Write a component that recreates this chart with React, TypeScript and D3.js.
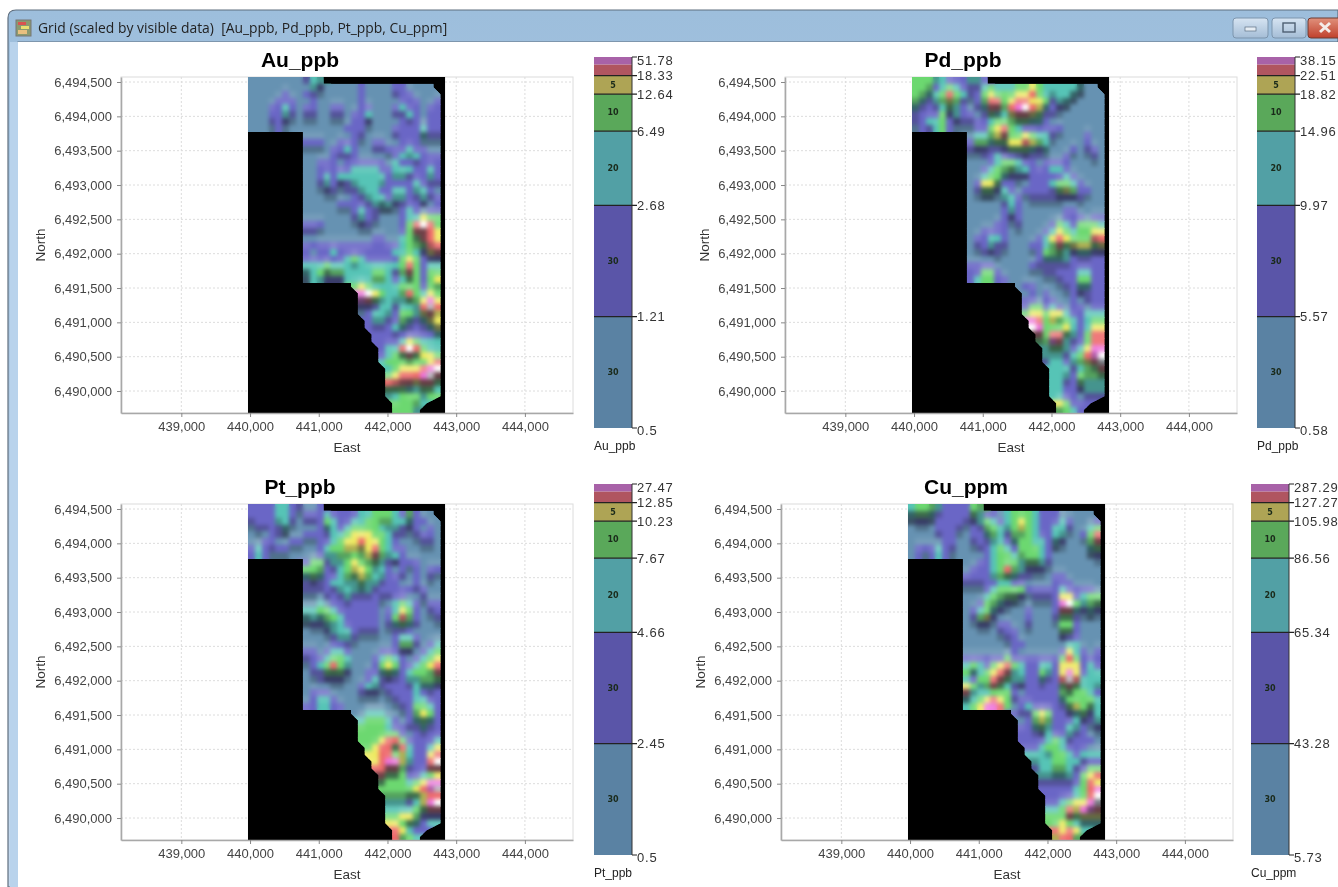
import React, { useEffect, useRef } from 'react';
import * as d3 from 'd3';

// grid classes, 100 m cells, north to south.
// 0 base, 1 purple, 2 teal, 3 green, 4 yellow, 5 red, 6 magenta, 7 white
const rowStart = [
  0, 0, 0, 0, 0, 0, 0, 0,
  8, 8, 8, 8, 8, 8, 8, 8, 8, 8, 8, 8, 8, 8,
  8, 8, 8, 8, 8, 8, 8, 8,
  15, 16, 16, 16, 16, 17, 17, 18, 18, 19, 19, 19, 20, 20, 20, 20, 20, 21, 21,
];

const auGrid = [
  '00000000122',
  '000000000210000010000110000',
  '0000010011000000100001110000',
  '0000111001000000100000111001',
  '0001121011001100110001211011',
  '0001121011001101120001121011',
  '0001110000000001110000111011',
  '0000100000000011100001111211',
  '00000001100001111211',
  '11100111001100111000',
  '00001121001111121100',
  '00001111000001222111',
  '00111011111102111111',
  '00111112222112221121',
  '00121222222212211121',
  '00121112222211112111',
  '00011011222112212210',
  '00000001122212211211',
  '00000111112221111101',
  '00000001211000121011',
  '00000001211000122433',
  '11100000110000135753',
  '11000000000000135554',
  '00000000001100233554',
  '11111111111111233355',
  '10112111111112232145',
  '11111123211111343111',
  '22232222222222353122',
  '22333322223321353133',
  '02211122223321233134',
  '3432222333133',
  '674322353243',
  '653222233464',
  '111221222575',
  '012221332454',
  '12211321244',
  '11112211124',
  '1111111112',
  '1111243222',
  '122575322',
  '123353443',
  '233333345',
  '23444567',
  '34555675',
  '55554553',
  '33322332',
  '22333233',
  '33332',
  '3332',
];

const pdGrid = [
  '33322111221',
  '333123211123222334322222200',
  '3322353211343334453222220000',
  '3212343101355345544312200000',
  '2111232101255356754211000000',
  '1111312110132245543110000000',
  '1122311111123333322100000000',
  '0112310001134532111111000000',
  '02234533432210000100',
  '13323344543200000100',
  '11111133321200010110',
  '00112111111000100010',
  '00012332110111100000',
  '00123332211122100000',
  '00233211111111210000',
  '01443110011123321000',
  '01331210111113431100',
  '00000221011111111000',
  '00000121000000000000',
  '00000121000000110000',
  '00000111000000111011',
  '00001101000013213332',
  '00111100000124323344',
  '01122100001245433355',
  '01121100011235344434',
  '00111000001333212211',
  '00000000001222211111',
  '11110000011111111111',
  '11331000000111112211',
  '12331100000001113311',
  '0110000112211',
  '010100011111',
  '110110010111',
  '133121011011',
  '344344211222',
  '65343321233',
  '76333421244',
  '5355321355',
  '3365211355',
  '233212466',
  '222123567',
  '122123457',
  '22212335',
  '22213333',
  '22113222',
  '22111222',
  '22110111',
  '43111',
  '3321',
];

const ptGrid = [
  '11112211001',
  '111122101112111122333213100',
  '1111221011132112233332221100',
  '0111120000122123333222111010',
  '0001100011112234443321101110',
  '0011001100112344544321000110',
  '1211110000123344445321100000',
  '1210000000122333345322100000',
  '13312234333211111000',
  '33311234432210101011',
  '23211233432211101010',
  '11112222322111001000',
  '11111222221111111100',
  '00011121111111100100',
  '00201111111002321011',
  '22332111111012431011',
  '22233211111013531001',
  '01122211111012321000',
  '00012221111001110000',
  '00001221000001221000',
  '00001110000001331012',
  '11012210000111110123',
  '11123320001232101234',
  '01235320001343112345',
  '01133310011232123335',
  '00111100012111122333',
  '00000000122111112221',
  '01110000111011112111',
  '01221000000001112211',
  '11221100000000113321',
  '0022200013431',
  '233321012321',
  '333321111211',
  '333333101111',
  '333455311112',
  '34553521124',
  '44553421145',
  '4566421157',
  '5555311155',
  '533311234',
  '333323466',
  '333334567',
  '33333455',
  '22212467',
  '22223355',
  '33443111',
  '44332122',
  '54211',
  '5332',
];

const cuGrid = [
  '23332111133',
  '233211111321102333211100000',
  '0110111111232123432111210001',
  '0000111101133223432112210023',
  '0000111001123213332112200135',
  '0000011001112212332212100035',
  '0111211000112321333210000023',
  '0101210000012332333210000001',
  '00112333233210000000',
  '01112353211100000000',
  '11112332110001100000',
  '11111221100001110000',
  '00012333311111211110',
  '00023333101111441233',
  '00133210000001673233',
  '01232100010001552121',
  '01341000010001331000',
  '00110110010000331000',
  '00000111000000331000',
  '00000011000000111000',
  '00000001100000022000',
  '00000001000000142101',
  '11111131111111353111',
  '23213453211221444121',
  '32234552211321464122',
  '21335532211211575222',
  '43235321111111353222',
  '52223331011111333321',
  '22345431111111233332',
  '23466530121111134332',
  '1113431112312',
  '013431112112',
  '112321122101',
  '111121121100',
  '111123211110',
  '11233211100',
  '22223321222',
  '2223322111',
  '1223321133',
  '222221345',
  '111111354',
  '111112356',
  '11112357',
  '11234467',
  '22354665',
  '33353444',
  '33432222',
  '54542',
  '4553',
];

const panelNames = ['Au_ppb', 'Pd_ppb', 'Pt_ppb', 'Cu_ppm'];
const panelGrids = [auGrid, pdGrid, ptGrid, cuGrid];

const auBreaks = [0.5, 1.21, 2.68, 6.49, 12.64, 18.33, 51.78];
const pdBreaks = [0.58, 5.57, 9.97, 14.96, 18.82, 22.51, 38.15];
const ptBreaks = [0.5, 2.45, 4.66, 7.67, 10.23, 12.85, 27.47];
const cuBreaks = [5.73, 43.28, 65.34, 86.56, 105.98, 127.27, 287.29];
const panelBreaks = [auBreaks, pdBreaks, ptBreaks, cuBreaks];

const percentiles = [0, 30, 60, 80, 90, 95, 100];
const legendBands = [30, 30, 20, 10, 5];

const eastTicks = [439000, 440000, 441000, 442000, 443000, 444000];
const northTicks = [6490000, 6490500, 6491000, 6491500, 6492000, 6492500, 6493000, 6493500, 6494000, 6494500];

const windowTitle = 'Grid (scaled by visible data)  [Au_ppb, Pd_ppb, Pt_ppb, Cu_ppm]';

const classColors = ['#6692b2', '#6a66c6', '#56c4b6', '#6cd870', '#eeea60', '#ee6a6c', '#ee72dc', '#ffffff'];
const legendColors = ['#5a82a3', '#5a55a8', '#52a0a5', '#5aa85a', '#aea455', '#b05560', '#a862a8'];

// pixel offsets of each panel, and of its legend
const panelDx = [0, 664, 0, 660];
const panelDy = [0, 0, 427, 427];
const legendDx = [0, 663, 0, 657];
const titleX = [300, 963, 300, 966];

const sans = '"Liberation Sans", Arial, sans-serif';

function drawWindow(svg: any) {
  const defs = svg.append('defs');
  const bar = defs.append('linearGradient').attr('id', 'bar').attr('x1', 0).attr('x2', 0).attr('y1', 0).attr('y2', 1);
  bar.append('stop').attr('offset', 0).attr('stop-color', '#9dbedc');
  bar.append('stop').attr('offset', 1).attr('stop-color', '#c4d9ee');
  const btn = defs.append('linearGradient').attr('id', 'btn').attr('x1', 0).attr('x2', 0).attr('y1', 0).attr('y2', 1);
  btn.append('stop').attr('offset', 0).attr('stop-color', '#d6e4f2');
  btn.append('stop').attr('offset', 1).attr('stop-color', '#a4bdd6');
  const red = defs.append('linearGradient').attr('id', 'closeBtn').attr('x1', 0).attr('x2', 0).attr('y1', 0).attr('y2', 1);
  red.append('stop').attr('offset', 0).attr('stop-color', '#e0917c');
  red.append('stop').attr('offset', 1).attr('stop-color', '#c0402c');

  const blur = defs.append('filter').attr('id', 'soft').attr('filterUnits', 'userSpaceOnUse')
    .attr('x', 0).attr('y', 0).attr('width', 1338).attr('height', 887)
    .attr('color-interpolation-filters', 'sRGB');
  blur.append('feGaussianBlur').attr('stdDeviation', 0.5);
  const gridBlur = defs.append('filter').attr('id', 'gridBlur').attr('x', '-5%').attr('y', '-5%').attr('width', '110%').attr('height', '110%')
    .attr('color-interpolation-filters', 'sRGB');
  gridBlur.append('feGaussianBlur').attr('stdDeviation', 2.2);

  const g = svg.append('g').attr('filter', 'url(#soft)');
  g.append('rect').attr('width', 1338).attr('height', 887).attr('fill', '#fff');
  g.append('path').attr('d', 'M8,887 V18 Q8,10 16,10 H1338 V42 H18 V887 Z').attr('fill', 'url(#bar)').attr('stroke', '#5f6e7e').attr('stroke-width', 1.2);
  g.append('rect').attr('x', 10).attr('y', 42).attr('width', 8).attr('height', 845).attr('fill', '#b9d3ec');
  g.append('rect').attr('x', 18).attr('y', 42).attr('width', 1320).attr('height', 845).attr('fill', '#fff');

  // little grid icon
  const icon = g.append('g').attr('transform', 'translate(16,20)');
  icon.append('rect').attr('width', 15).attr('height', 16).attr('fill', '#8a9a70').attr('stroke', '#777');
  icon.append('rect').attr('x', 2).attr('y', 2).attr('width', 8).attr('height', 3).attr('fill', '#d9534f');
  icon.append('rect').attr('x', 5).attr('y', 6).attr('width', 8).attr('height', 3).attr('fill', '#e8e070');
  icon.append('rect').attr('x', 2).attr('y', 10).attr('width', 9).attr('height', 4).attr('fill', '#e8c080');

  g.append('text').attr('x', 38).attr('y', 33).style('white-space', 'pre')
    .attr('font-family', '"Open Sans", sans-serif').attr('font-size', 13.9).attr('fill', '#222').text(windowTitle);

  g.append('rect').attr('x', 1233).attr('y', 18).attr('width', 35).attr('height', 20).attr('rx', 3).attr('fill', 'url(#btn)').attr('stroke', '#7d95ad');
  g.append('rect').attr('x', 1245).attr('y', 27).attr('width', 11).attr('height', 4).attr('fill', '#e6edf4').attr('stroke', '#5d6f82').attr('stroke-width', 0.7);
  g.append('rect').attr('x', 1272).attr('y', 18).attr('width', 34).attr('height', 20).attr('rx', 3).attr('fill', 'url(#btn)').attr('stroke', '#7d95ad');
  g.append('rect').attr('x', 1283).attr('y', 23).attr('width', 12).attr('height', 9).attr('fill', 'none').attr('stroke', '#4d5f72').attr('stroke-width', 1.4);
  g.append('rect').attr('x', 1308).attr('y', 18).attr('width', 34).attr('height', 20).attr('rx', 3).attr('fill', 'url(#closeBtn)').attr('stroke', '#6e3a30');
  g.append('path').attr('d', 'M1320,23 L1330,32 M1330,23 L1320,32').attr('stroke', '#f4ecea').attr('stroke-width', 3);
  return g;
}

function drawPanel(root: any, i: number) {
  const dx = panelDx[i];
  const dy = panelDy[i];
  const rows = panelGrids[i];

  const x = d3.scaleLinear().domain([438122, 444700]).range([121 + dx, 573 + dx]);
  const y = d3.scaleLinear().domain([6489680, 6494573]).range([413 + dy, 77 + dy]);
  const g = root.append('g');

  // plot frame and dashed grid
  g.append('rect').attr('x', x(438122)).attr('y', y(6494573)).attr('width', x(444700) - x(438122)).attr('height', y(6489680) - y(6494573))
    .attr('fill', '#fff').attr('stroke', '#dcdcdc');
  g.selectAll('.vg').data(eastTicks).enter().append('line')
    .attr('x1', (d: number) => x(d)).attr('x2', (d: number) => x(d)).attr('y1', y(6494573)).attr('y2', y(6489680))
    .attr('stroke', '#dcdcdc').attr('stroke-dasharray', '2,2');
  g.selectAll('.hg').data(northTicks).enter().append('line')
    .attr('y1', (d: number) => y(d)).attr('y2', (d: number) => y(d)).attr('x1', x(438122)).attr('x2', x(444700))
    .attr('stroke', '#dcdcdc').attr('stroke-dasharray', '2,2');

  // cells
  const e0 = 439970;
  const n0 = 6494573;
  const rowEnd = (r: number) => rowStart[r] + rows[r].length;
  const eastOf = (c: number) => x(e0 + c * 100);
  const topOf = (r: number) => y(n0 - r * 100);
  const cells: any[] = [];
  const at = (r: number, c: number) => {
    if (r < 0 || r >= rows.length) return NaN;
    const ch = rows[r][c - rowStart[r]];
    return ch === undefined || c < rowStart[r] ? NaN : +ch;
  };
  rows.forEach((row: string, r: number) => {
    row.split('').forEach((ch: string, k: number) => {
      const c = rowStart[r] + k;
      const v = +ch;
      const north = at(r - 1, c);
      const south = at(r + 1, c);
      const diff = (isNaN(north) ? v : north) - (isNaN(south) ? v : south);
      // edge cells run one column further so the slanted outline has colour under it
      cells.push({ r, c, v, diff, from: k === 0 ? c - 1 : c, to: k === row.length - 1 ? c + 2 : c + 1 });
    });
  });
  // light comes from the north, so the south side of every rise sits in shade
  const cellFill = (d: any) => {
    const base = classColors[d.v];
    if (d.diff > 0) return d3.interpolateRgb(base, '#1c2430')(Math.min(0.65, d.diff * 0.3));
    if (d.diff < 0) return d3.interpolateRgb(base, '#ffffff')(Math.min(0.25, -d.diff * 0.1));
    return base;
  };

  g.append('rect').attr('x', x(e0)).attr('y', y(n0)).attr('width', x(442838) - x(e0)).attr('height', y(6489680) - y(n0)).attr('fill', '#000');

  // outline of the data: slanted along the small steps, square at the big ones
  const left: [number, number][] = [[eastOf(rowStart[0]), topOf(0)]];
  const right: [number, number][] = [[eastOf(rowEnd(0)), topOf(0)]];
  rows.forEach((_: string, r: number) => {
    left.push([eastOf(rowStart[r]), topOf(r + 0.5)]);
    right.push([eastOf(rowEnd(r)), topOf(r + 0.5)]);
    if (r === rows.length - 1) {
      left.push([eastOf(rowStart[r]), topOf(r + 1)]);
      right.push([eastOf(rowEnd(r)), topOf(r + 1)]);
    } else {
      if (Math.abs(rowStart[r + 1] - rowStart[r]) >= 3) {
        left.push([eastOf(rowStart[r]), topOf(r + 1)], [eastOf(rowStart[r + 1]), topOf(r + 1)]);
      }
      if (Math.abs(rowEnd(r + 1) - rowEnd(r)) >= 3) {
        right.push([eastOf(rowEnd(r)), topOf(r + 1)], [eastOf(rowEnd(r + 1)), topOf(r + 1)]);
      }
    }
  });
  const outline = d3.line()(left.concat(right.reverse())) + 'Z';
  const clipId = `clip${i}`;
  g.append('clipPath').attr('id', clipId).append('path').attr('d', outline);

  const clipped = g.append('g').attr('clip-path', `url(#${clipId})`);
  const drawCells = (parent: any) => parent.selectAll('rect').data(cells).enter().append('rect')
    .attr('x', (d: any) => eastOf(d.from)).attr('y', (d: any) => topOf(d.r))
    .attr('width', (d: any) => eastOf(d.to) - eastOf(d.from) + 1).attr('height', topOf(1) - topOf(0) + 1)
    .attr('shape-rendering', 'crispEdges')
    .attr('fill', cellFill);
  drawCells(clipped.append('g'));
  drawCells(clipped.append('g').attr('filter', 'url(#gridBlur)'));

  // axes
  const xAxis = g.append('g').attr('transform', `translate(0,${413 + dy})`)
    .call(d3.axisBottom(x).tickValues(eastTicks).tickFormat(d3.format(',')).tickSize(4).tickSizeOuter(0).tickPadding(5));
  const yAxis = g.append('g').attr('transform', `translate(${121 + dx},0)`)
    .call(d3.axisLeft(y).tickValues(northTicks).tickFormat(d3.format(',')).tickSize(4).tickSizeOuter(0).tickPadding(5));
  [xAxis, yAxis].forEach((a: any) => {
    a.select('.domain').attr('stroke', '#a8a8a8').attr('stroke-width', 1.6);
    a.selectAll('.tick line').attr('stroke', '#888');
    a.selectAll('text').attr('font-family', sans).attr('font-size', 13).attr('fill', '#444');
  });

  g.append('text').attr('x', titleX[i]).attr('y', 67 + dy).attr('text-anchor', 'middle')
    .attr('font-family', sans).attr('font-weight', 'bold').attr('font-size', 21).attr('fill', '#000').text(panelNames[i]);
  g.append('text').attr('x', 347 + dx).attr('y', 452 + dy).attr('text-anchor', 'middle')
    .attr('font-family', sans).attr('font-size', 13.5).attr('fill', '#333').text('East');
  g.append('text').attr('transform', `translate(${45 + dx},${245 + dy}) rotate(-90)`).attr('text-anchor', 'middle')
    .attr('font-family', sans).attr('font-size', 13.5).attr('fill', '#333').text('North');

  drawLegend(root, i);
}

function drawLegend(root: any, i: number) {
  const lx = 594 + legendDx[i];
  const dy = panelDy[i];
  const barWidth = 38;
  const p = d3.scaleLinear().domain([0, 100]).range([428 + dy, 57 + dy]);
  const g = root.append('g');
  const breaks = panelBreaks[i];

  // the top class carries a thin lighter cap above 98
  const bandStops = [0, 30, 60, 80, 90, 95, 98, 100];
  g.selectAll('.band').data(legendColors).enter().append('rect')
    .attr('x', lx).attr('width', barWidth)
    .attr('y', (_: string, k: number) => p(bandStops[k + 1]))
    .attr('height', (_: string, k: number) => p(bandStops[k]) - p(bandStops[k + 1]))
    .attr('fill', (d: string) => d);

  let mid = 0;
  legendBands.forEach((band: number) => {
    g.append('text').attr('x', lx + barWidth / 2).attr('y', p(mid + band / 2)).attr('dy', '.35em').attr('text-anchor', 'middle')
      .attr('font-family', '"DejaVu Sans", sans-serif').attr('font-weight', 'bold').attr('font-size', 8).attr('fill', '#1a2a1a').text(band);
    mid += band;
  });

  g.append('line').attr('x1', lx + barWidth).attr('x2', lx + barWidth).attr('y1', p(100)).attr('y2', p(0)).attr('stroke', '#333');
  percentiles.forEach((pct: number, k: number) => {
    const inner = k > 0 && k < percentiles.length - 1;
    g.append('line').attr('x1', inner ? lx : lx + barWidth).attr('x2', lx + barWidth + 5).attr('y1', p(pct)).attr('y2', p(pct))
      .attr('stroke', '#222').attr('stroke-width', inner ? 1.3 : 1);
    g.append('text').attr('x', lx + barWidth + 5).attr('y', p(pct) + (k === percentiles.length - 1 ? 3 : 0) + (k === 0 ? 2 : 0)).attr('dy', '.35em')
      .attr('font-family', sans).attr('font-size', 13).attr('letter-spacing', 0.8).attr('fill', '#333').text(String(breaks[k]));
  });
  g.append('text').attr('x', lx).attr('y', 450 + dy).attr('font-family', sans).attr('font-size', 12).attr('fill', '#222').text(panelNames[i]);
}

export default function App() {
  const ref = useRef<SVGSVGElement>(null);
  useEffect(() => {
    const svg = d3.select(ref.current);
    svg.selectAll('*').remove();
    const root = drawWindow(svg);
    panelNames.forEach((_, i) => drawPanel(root, i));
  }, []);
  return <svg ref={ref} width={1338} height={887} style={{ position: 'absolute', left: 0, top: 0 }} />;
}
